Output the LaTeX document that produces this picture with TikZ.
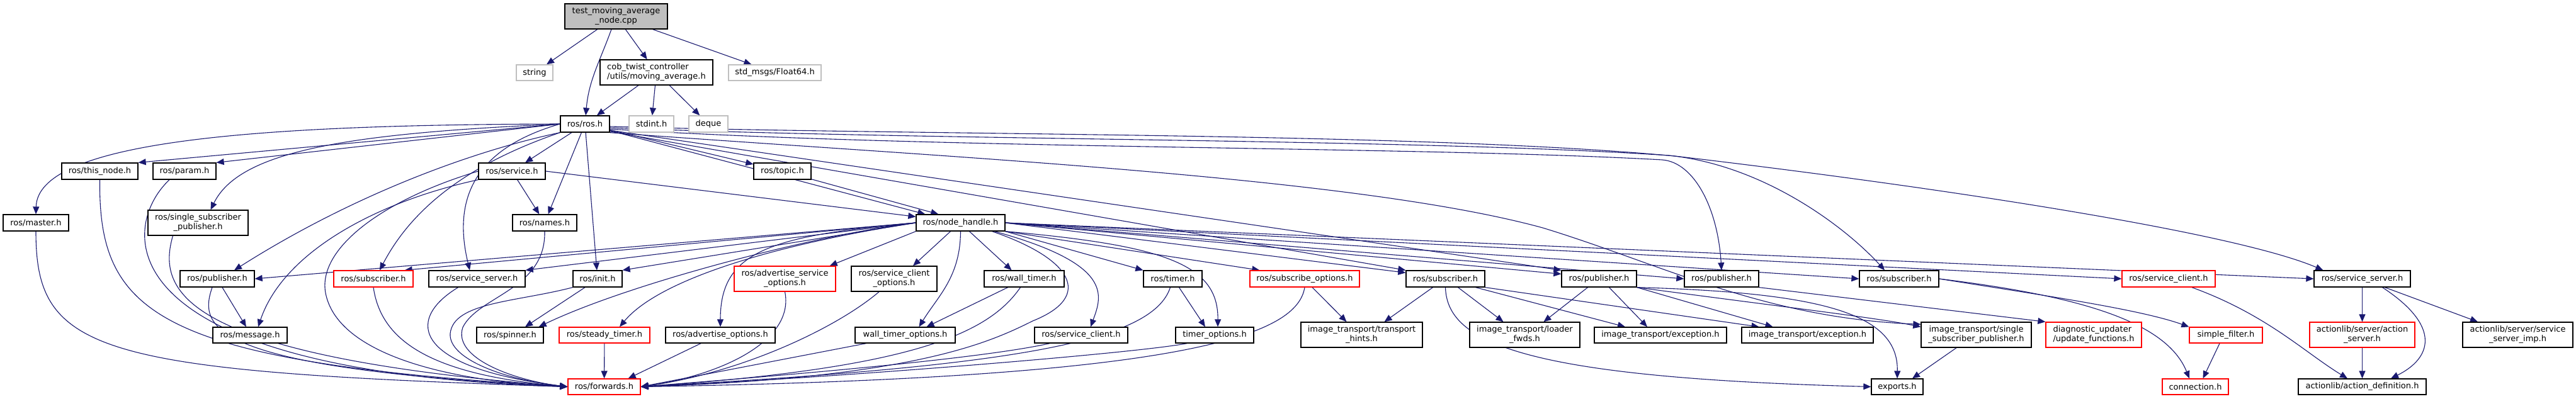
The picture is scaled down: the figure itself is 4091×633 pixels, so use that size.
\documentclass[tikz,border=0pt]{standalone}
\usepackage{fontspec}
\setmainfont{DejaVu Sans}
\usetikzlibrary{arrows.meta,calc}
\definecolor{edgec}{HTML}{191970}
\definecolor{grayb}{HTML}{BFBFBF}
\pgfdeclarelayer{bg}
\pgfsetlayers{bg,main}
\tikzset{
  box/.style={draw=black,line width=0.65pt,rectangle,inner sep=0pt,align=center,
    font=\fontsize{6.5}{7.5}\selectfont,fill=white},
  redbox/.style={box,draw=red},
  graybox/.style={box,draw=grayb},
  rootbox/.style={box,fill=grayb},
  dep/.style={draw=edgec,line width=0.55pt,-{Triangle[length=6pt,width=5pt]}}
}
\newcommand\gnode[7]{%
  \pgfmathsetmacro\gnW{(#3-#2)*0.5}%
  \pgfmathsetmacro\gnH{(#5-#4)*0.5}%
  \pgfmathsetmacro\gnX{(#2+#3)/2}%
  \pgfmathsetmacro\gnY{(#4+#5)/2}%
  \node[#6,minimum width=\gnW pt,minimum height=\gnH pt] (#1) at (\gnX,\gnY) {#7};}
\begin{document}
\begin{tikzpicture}[x=0.5pt,y=-0.5pt]
\useasboundingbox (0,0) rectangle (4091,633);
% ---------- nodes ----------
\gnode{test}{897}{1060}{6}{46}{rootbox}{test\_moving\_average\\\_node.cpp}
\gnode{string}{820}{878}{103}{128}{graybox}{string}
\gnode{cob}{953}{1132}{95}{135}{box,align=left}{cob\_twist\_controller\\/utils/moving\_average.h}
\gnode{f64}{1157}{1304}{103}{128}{graybox}{std\_msgs/Float64.h}
\gnode{ros}{890}{968}{184}{210}{box}{ros/ros.h}
\gnode{stdint}{999}{1070}{184}{210}{graybox}{stdint.h}
\gnode{deque}{1094}{1156}{184}{210}{graybox}{deque}
\gnode{thisnode}{98}{219}{259}{285}{box}{ros/this\_node.h}
\gnode{param}{243}{343}{259}{285}{box}{ros/param.h}
\gnode{service}{760}{866}{259}{285}{box}{ros/service.h}
\gnode{topic}{1197}{1288}{259}{285}{box}{ros/topic.h}
\gnode{master}{5}{109}{341}{367}{box}{ros/master.h}
\gnode{ssp}{235}{394}{334}{374}{box}{ros/single\_subscriber\\\_publisher.h}
\gnode{names}{814}{916}{341}{367}{box}{ros/names.h}
\gnode{nh}{1455}{1596}{341}{367}{box}{ros/node\_handle.h}
\gnode{pubL}{286}{404}{430}{456}{box}{ros/publisher.h}
\gnode{subL}{530}{656}{430}{456}{redbox}{ros/subscriber.h}
\gnode{ssL}{681}{834}{430}{456}{box}{ros/service\_server.h}
\gnode{init}{910}{988}{430}{456}{box}{ros/init.h}
\gnode{aso}{1166}{1327}{423}{463}{redbox}{ros/advertise\_service\\\_options.h}
\gnode{sco}{1352}{1488}{423}{463}{box}{ros/service\_client\\\_options.h}
\gnode{wt}{1563}{1690}{430}{456}{box}{ros/wall\_timer.h}
\gnode{timer}{1816}{1909}{430}{456}{box}{ros/timer.h}
\gnode{subopt}{1985}{2159}{430}{456}{redbox}{ros/subscribe\_options.h}
\gnode{subM}{2233}{2358}{430}{456}{box}{ros/subscriber.h}
\gnode{pubM}{2480}{2599}{430}{456}{box}{ros/publisher.h}
\gnode{pubR}{2675}{2793}{430}{456}{box}{ros/publisher.h}
\gnode{subR}{2953}{3079}{430}{456}{box}{ros/subscriber.h}
\gnode{scR}{3370}{3518}{430}{456}{redbox}{ros/service\_client.h}
\gnode{ssR}{3675}{3828}{430}{456}{box}{ros/service\_server.h}
\gnode{message}{338}{456}{520}{545}{box}{ros/message.h}
\gnode{spinner}{757}{863}{520}{545}{box}{ros/spinner.h}
\gnode{steady}{888}{1032}{520}{545}{redbox}{ros/steady\_timer.h}
\gnode{advopt}{1057}{1231}{520}{545}{box}{ros/advertise\_options.h}
\gnode{wto}{1358}{1517}{520}{545}{box}{wall\_timer\_options.h}
\gnode{sc}{1643}{1791}{520}{545}{box}{ros/service\_client.h}
\gnode{topt}{1867}{1991}{520}{545}{box}{timer\_options.h}
\gnode{hints}{2066}{2259}{512}{552}{box}{image\_transport/transport\\\_hints.h}
\gnode{loader}{2334}{2509}{512}{552}{box}{image\_transport/loader\\\_fwds.h}
\gnode{exc1}{2532}{2742}{520}{545}{box}{image\_transport/exception.h}
\gnode{exc2}{2766}{2975}{520}{545}{box}{image\_transport/exception.h}
\gnode{sspit}{3051}{3226}{512}{552}{box}{image\_transport/single\\\_subscriber\_publisher.h}
\gnode{diag}{3249}{3401}{512}{552}{redbox,align=left}{diagnostic\_updater\\/update\_functions.h}
\gnode{sf}{3477}{3593}{520}{545}{redbox}{simple\_filter.h}
\gnode{aserv}{3668}{3835}{512}{552}{redbox}{actionlib/server/action\\\_server.h}
\gnode{ssimp}{3911}{4086}{512}{552}{box}{actionlib/server/service\\\_server\_imp.h}
\gnode{fwd}{902}{1017}{602}{627}{redbox}{ros/forwards.h}
\gnode{exports}{2972}{3054}{602}{627}{box}{exports.h}
\gnode{conn}{3434}{3539}{602}{627}{redbox}{connection.h}
\gnode{adef}{3650}{3853}{602}{627}{box}{actionlib/action\_definition.h}
% ---------- edges ----------
\begin{pgfonlayer}{bg}
\fill[white] (0,0) rectangle (4091,633);
% top
\draw[dep] (test) -- (string);
\draw[dep] (test) to[out=-110,in=85] (ros);
\draw[dep] (test) -- (cob);
\draw[dep] (test) -- (f64);
\draw[dep] (cob) -- (ros);
\draw[dep] (cob) -- (stdint);
\draw[dep] (cob) -- (deque);
% ros.h
\draw[dep] (ros) -- (service);
\draw[dep] (ros) -- (topic);
\draw[dep] (ros) -- (names);
\draw[dep] (ros) -- (init);
\draw[dep] (ros) -- ([xshift=7.5pt]nh.north west);
\draw[dep] (topic) -- ([xshift=18pt]nh.north west);
\draw[dep] (service.east) -- ([yshift=-2pt]nh.north west);
\draw[dep] (ros.west) .. controls (400,198) and (60,225) .. (master.north);
\draw[dep] (ros.west) -- (thisnode.north east);
\draw[dep] (ros.west) -- (param.north east);
\draw[dep] (ros.west) .. controls (550,212) and (380,240) .. ([xshift=10pt]ssp.north);
\draw[dep] (ros.south west) .. controls (750,240) and (560,310) .. ([xshift=13.5pt]pubL.north);
\draw[dep] (ros.south west) .. controls (760,255) and (660,320) .. ([xshift=5pt]subL.north);
\draw[dep] (ros.west) .. controls (740,240) and (722,330) .. ([xshift=-5.75pt]ssL.north);
\draw[dep] ([yshift=-6pt]ros.east) -- (subM.north west);
\draw[dep] ([yshift=-5pt]ros.east) -- (pubM.north west);
\draw[dep] ([yshift=-4pt]ros.east) .. controls (1500,238) and (2250,232) .. (2640,254) .. controls (2690,258) and (2728,330) .. (pubR.north);
\draw[dep] ([yshift=-3pt]ros.east) .. controls (1500,224) and (2250,220) .. (2650,247) .. controls (2800,262) and (2930,360) .. ([xshift=-11.5pt]subR.north);
\draw[dep] ([yshift=-2pt]ros.east) .. controls (1500,216) and (2250,210) .. (2660,248) .. controls (3100,300) and (3550,370) .. ([xshift=7.5pt]ssR.north west);
\draw[dep] (ros.south east) .. controls (1500,250) and (2150,280) .. (2450,362) .. controls (2640,420) and (2800,505) .. ([yshift=-2pt]sspit.north west);
% node_handle.h
\draw[dep] (nh.west) -- (pubL.east);
\draw[dep] (nh.west) -- ([xshift=-7pt]subL.north east);
\draw[dep] (nh.west) -- (ssL.north east);
\draw[dep] (nh.west) -- (init.north east);
\draw[dep] (nh.west) .. controls (1300,372) and (1000,450) .. ([xshift=-4pt]spinner.north east);
\draw[dep] (nh.west) .. controls (1250,385) and (1050,440) .. ([xshift=12pt]steady.north);
\draw[dep] (nh.west) .. controls (1220,375) and (1144,400) .. (advopt.north);
\draw[dep] (nh.south west) -- ([xshift=-5pt]aso.north east);
\draw[dep] ([xshift=-8pt]nh.south) -- ([xshift=15pt]sco.north);
\draw[dep] (nh.south) .. controls (1525,440) and (1490,470) .. ([xshift=11pt]wto.north);
\draw[dep] ([xshift=7pt]nh.south) -- ([xshift=-10pt]wt.north);
\draw[dep] ([xshift=27pt]nh.south) .. controls (1770,420) and (1750,470) .. ([xshift=7.5pt]sc.north);
\draw[dep] ([xshift=25pt]nh.south) .. controls (1700,410) and (1740,470) .. (1640,510) .. controls (1570,545) and (1450,600) .. (fwd.east);
\draw[dep] (nh.south east) -- (timer.north west);
\draw[dep] (nh.south east) .. controls (1850,390) and (1935,420) .. ([xshift=2.5pt]topt.north);
\draw[dep] (nh.south east) -- ([xshift=8pt]subopt.north west);
\draw[dep] (nh.east) -- ([yshift=-2pt]subM.north west);
\draw[dep] (nh.east) -- ([yshift=-3pt]pubM.north west);
\draw[dep] (nh.east) -- (pubR.west);
\draw[dep] (nh.east) -- (subR.west);
\draw[dep] (nh.east) -- (scR.west);
\draw[dep] (nh.east) -- (ssR.west);
% service.h
\draw[dep] (service.south west) .. controls (600,320) and (450,400) .. ([xshift=6.5pt]message.north);
\draw[dep] (service) -- (names);
\draw[dep] (service.west) .. controls (600,320) and (500,400) .. (518,470) .. controls (540,560) and (700,605) .. (fwd.west);
% into forwards (left)
\draw[dep] (master.south) .. controls (57,560) and (150,590) .. (fwd.west);
\draw[dep] (thisnode.south) .. controls (156,500) and (250,575) .. (fwd.west);
\draw[dep] ([xshift=-12pt]param.south) .. controls (190,360) and (160,590) .. (fwd.west);
\draw[dep] ([xshift=-20pt]ssp.south) .. controls (250,460) and (280,565) .. (fwd.west);
\draw[dep] ([xshift=-4pt]pubL.south) .. controls (315,520) and (330,585) .. (fwd.west);
\draw[dep] ([xshift=4pt]pubL.south) -- ([xshift=-3pt]message.north);
\draw[dep] (subL.south) .. controls (605,540) and (680,595) .. (fwd.west);
\draw[dep] ([xshift=-15pt]ssL.south) .. controls (640,510) and (660,585) .. (fwd.west);
\draw[dep] (names.south) .. controls (867,460) and (760,470) .. (735,520) .. controls (718,570) and (820,605) .. (fwd.west);
\draw[dep] (init.south west) .. controls (820,480) and (720,480) .. (715,530) .. controls (712,570) and (800,603) .. (fwd.west);
\draw[dep] ([xshift=-10pt]init.south) -- ([xshift=12pt]spinner.north);
% into forwards (right)
\draw[dep] (steady) -- (fwd);
\draw[dep] ([xshift=-15.5pt]advopt.south) -- ([xshift=-10pt]fwd.north east);
\draw[dep] (aso.south) .. controls (1262,540) and (1150,595) .. (fwd.east);
\draw[dep] ([xshift=-12pt]sco.south) .. controls (1330,520) and (1180,592) .. (fwd.east);
\draw[dep] ([xshift=-31pt]wto.south) -- (fwd.east);
\draw[dep] ([xshift=-3pt]wt.south) .. controls (1570,530) and (1450,585) .. (fwd.east);
\draw[dep] ([xshift=-13pt]wt.south) -- ([xshift=17pt]wto.north);
\draw[dep] ([xshift=-25pt]sc.south) .. controls (1550,572) and (1200,600) .. (fwd.east);
\draw[dep] ([xshift=-2pt]timer.south) .. controls (1830,545) and (1600,582) .. (fwd.east);
\draw[dep] ([xshift=5pt]timer.south) -- ([xshift=-7.5pt]topt.north);
\draw[dep] ([xshift=-22pt]topt.south) .. controls (1800,562) and (1300,602) .. (fwd.east);
\draw[dep] (subopt.south) .. controls (2060,530) and (1900,600) .. (fwd.east);
\draw[dep] ([xshift=6pt]subopt.south) -- ([xshift=-12pt]hints.north);
% image_transport
\draw[dep] ([xshift=-10pt]subM.south) -- ([xshift=18pt]hints.north);
\draw[dep] ([xshift=10pt]subM.south) -- ([xshift=-17pt]loader.north);
\draw[dep] ([xshift=24pt]subM.south) -- ([xshift=-28pt]exc1.north);
\draw[dep] (subM.south east) -- ([xshift=-38.5pt]exc2.north);
\draw[dep] (subM.south) .. controls (2298,545) and (2420,600) .. (exports.west);
\draw[dep] ([xshift=-9pt]pubM.south) -- ([xshift=15pt]loader.north);
\draw[dep] ([xshift=8pt]pubM.south) -- ([xshift=-10.5pt]exc1.north);
\draw[dep] (pubM.south east) -- ([xshift=-27.5pt]exc2.north);
\draw[dep] (pubM.south east) .. controls (2850,490) and (2980,505) .. ([yshift=-4pt]sspit.north west);
\draw[dep] (pubM.south east) .. controls (2900,465) and (3015,500) .. (exports.north);
\draw[dep] ([xshift=-15.75pt]sspit.south) -- ([xshift=12pt]exports.north);
% right part
\draw[dep] (pubR.south east) -- (diag.north west);
\draw[dep] (subR.east) .. controls (3250,470) and (3400,492) .. (sf.north west);
\draw[dep] (subR.east) .. controls (3300,470) and (3440,510) .. ([xshift=-4.75pt]conn.north);
\draw[dep] ([xshift=-5pt]sf.south) -- ([xshift=6pt]conn.north);
\draw[dep] ([xshift=18.5pt]scR.south) .. controls (3600,500) and (3660,560) .. ([xshift=-11.75pt]adef.north);
\draw[dep] (ssR) -- (aserv);
\draw[dep] ([xshift=16pt]ssR.south) .. controls (3880,520) and (3860,570) .. ([xshift=22.75pt]adef.north);
\draw[dep] ([xshift=18pt]ssR.south) -- ([xshift=-31.75pt]ssimp.north);
\draw[dep] (aserv) -- (adef);
\end{pgfonlayer}
\end{tikzpicture}
\end{document}
